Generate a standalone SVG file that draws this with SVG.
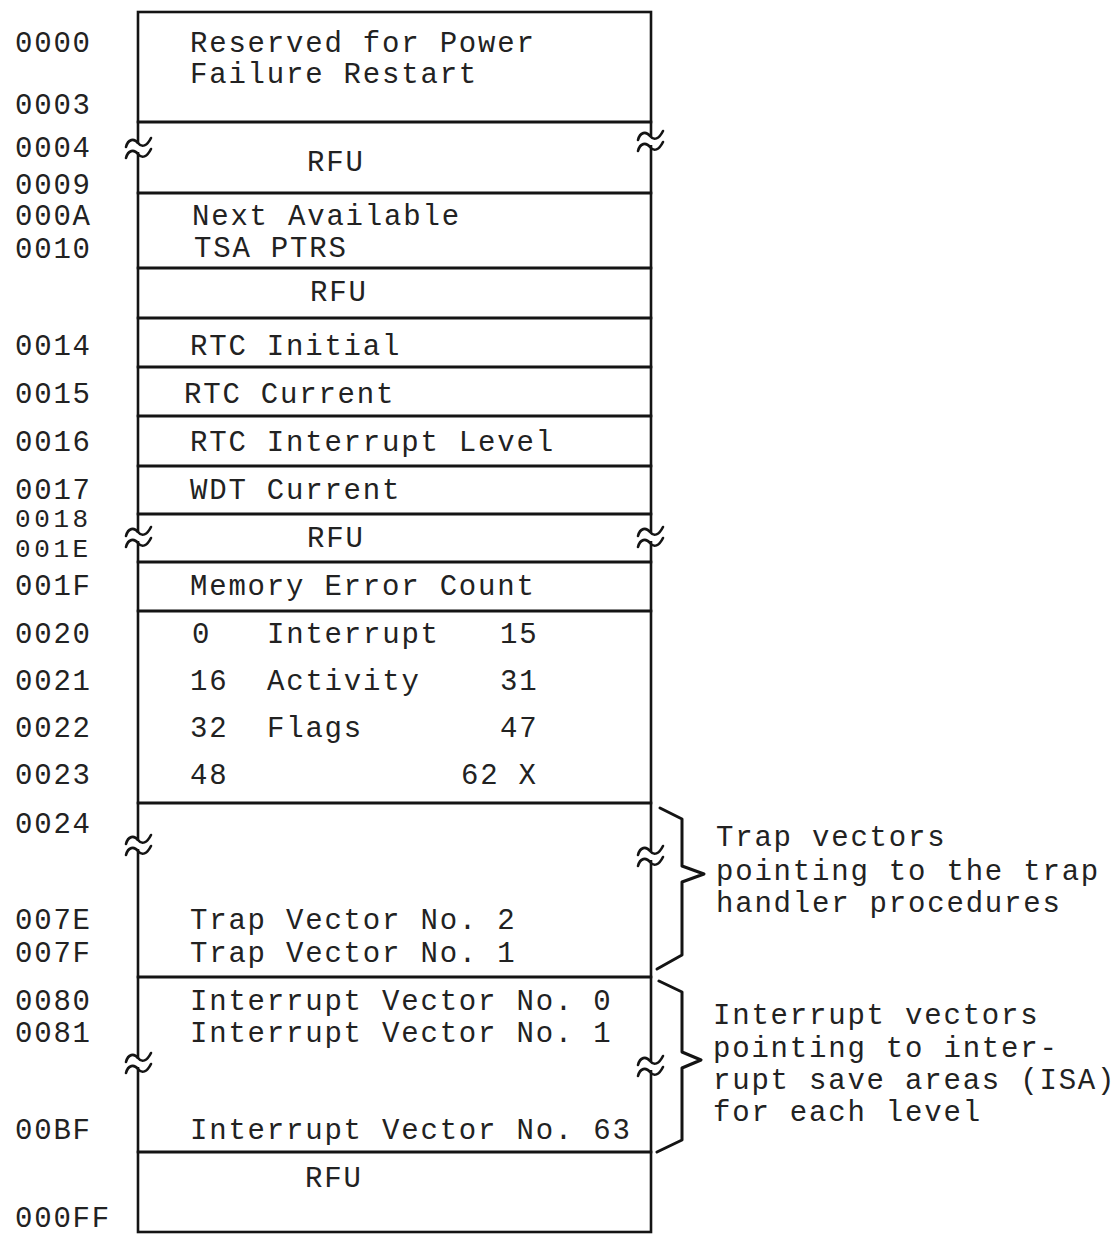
<svg xmlns="http://www.w3.org/2000/svg" width="1114" height="1238" viewBox="0 0 1114 1238">
<style>
.cell{fill:none;stroke:#141414;stroke-width:2.6}
.t{font-family:"Liberation Mono","DejaVu Sans Mono",monospace;font-size:29px;letter-spacing:1.8px;fill:#222}
.s{font-size:26px;letter-spacing:3.6px}
.brace{fill:none;stroke:#141414;stroke-width:3;stroke-linejoin:round;stroke-linecap:round}
</style>
<defs>
<g id="brk">
<rect x="-4" y="-4" width="8" height="8" fill="#fff"/>
<path d="M-13,-1 C-11,-9 -5,-10 -1,-5 S8,-2 12,-10 M-13,10 C-11,2 -5,1 -1,6 S8,9 12,1" fill="none" stroke="#141414" stroke-width="2.6" stroke-linecap="round"/>
</g>
</defs>
<rect width="1114" height="1238" fill="#fff"/>

<g id="n0000">
<rect class="cell" x="138" y="12" width="513" height="110"/>
<text class="t" x="15" y="52">0000</text>
<text class="t" x="15" y="114">0003</text>
<text class="t" x="190" y="52">Reserved for Power</text>
<text class="t" x="190" y="83">Failure Restart</text>
</g>
<g id="n0004">
<rect class="cell" x="138" y="122" width="513" height="71"/>
<text class="t" x="15" y="157">0004</text>
<text class="t" x="15" y="194">0009</text>
<text class="t" x="307" y="171">RFU</text>
</g>
<g id="n000A">
<rect class="cell" x="138" y="193" width="513" height="75"/>
<text class="t" x="15" y="225">000A</text>
<text class="t" x="15" y="258">0010</text>
<text class="t" x="192" y="225">Next Available</text>
<text class="t" x="194" y="257">TSA PTRS</text>
</g>
<g id="nRFU1">
<rect class="cell" x="138" y="268" width="513" height="50"/>
<text class="t" x="310" y="301">RFU</text>
</g>
<g id="n0014">
<rect class="cell" x="138" y="318" width="513" height="49"/>
<text class="t" x="15" y="355">0014</text>
<text class="t" x="190" y="355">RTC Initial</text>
</g>
<g id="n0015">
<rect class="cell" x="138" y="367" width="513" height="49"/>
<text class="t" x="15" y="403">0015</text>
<text class="t" x="184" y="403">RTC Current</text>
</g>
<g id="n0016">
<rect class="cell" x="138" y="416" width="513" height="50"/>
<text class="t" x="15" y="451">0016</text>
<text class="t" x="190" y="451">RTC Interrupt Level</text>
</g>
<g id="n0017">
<rect class="cell" x="138" y="466" width="513" height="48"/>
<text class="t" x="15" y="499">0017</text>
<text class="t" x="190" y="499">WDT Current</text>
</g>
<g id="n0018">
<rect class="cell" x="138" y="514" width="513" height="48"/>
<text class="t s" x="15" y="527">0018</text>
<text class="t s" x="15" y="557">001E</text>
<text class="t" x="307" y="547">RFU</text>
</g>
<g id="n001F">
<rect class="cell" x="138" y="562" width="513" height="49"/>
<text class="t" x="15" y="595">001F</text>
<text class="t" x="190" y="595">Memory Error Count</text>
</g>
<g id="n0020">
<rect class="cell" x="138" y="611" width="513" height="192"/>
<text class="t" x="15" y="643">0020</text>
<text class="t" x="15" y="690">0021</text>
<text class="t" x="15" y="737">0022</text>
<text class="t" x="15" y="784">0023</text>
<text class="t" x="192" y="643">0</text>
<text class="t" x="267" y="643">Interrupt</text>
<text class="t" x="500" y="643">15</text>
<text class="t" x="190" y="690">16</text>
<text class="t" x="267" y="690">Activity</text>
<text class="t" x="500" y="690">31</text>
<text class="t" x="190" y="737">32</text>
<text class="t" x="267" y="737">Flags</text>
<text class="t" x="500" y="737">47</text>
<text class="t" x="190" y="784">48</text>
<text class="t" x="461" y="784">62 X</text>
</g>
<g id="n0024">
<rect class="cell" x="138" y="803" width="513" height="174"/>
<text class="t" x="15" y="833">0024</text>
<text class="t" x="15" y="929">007E</text>
<text class="t" x="15" y="962">007F</text>
<text class="t" x="190" y="929">Trap Vector No. 2</text>
<text class="t" x="190" y="962">Trap Vector No. 1</text>
</g>
<g id="n0080">
<rect class="cell" x="138" y="977" width="513" height="175"/>
<text class="t" x="15" y="1010">0080</text>
<text class="t" x="15" y="1042">0081</text>
<text class="t" x="15" y="1139">00BF</text>
<text class="t" x="190" y="1010">Interrupt Vector No. 0</text>
<text class="t" x="190" y="1042">Interrupt Vector No. 1</text>
<text class="t" x="190" y="1139">Interrupt Vector No. 63</text>
</g>
<g id="nRFU2">
<rect class="cell" x="138" y="1152" width="513" height="80"/>
<text class="t" x="305" y="1187">RFU</text>
<text class="t" x="15" y="1227">000FF</text>
</g>

<g id="breaks">
<use href="#brk" x="139" y="148"/>
<use href="#brk" x="651" y="141"/>
<use href="#brk" x="139" y="537"/>
<use href="#brk" x="651" y="537"/>
<use href="#brk" x="139" y="845"/>
<use href="#brk" x="651" y="856"/>
<use href="#brk" x="139" y="1063"/>
<use href="#brk" x="651" y="1066"/>
</g>

<g id="connectors">
<path class="brace" d="M660,808 L682,819 L682,866 L704,874 L682,882 L682,955 L657,969"/>
<path class="brace" d="M659,981 L682,992 L682,1052 L701,1060 L682,1068 L682,1140 L657,1152"/>
</g>

<g id="note-trap">
<text class="t" x="716" y="846">Trap vectors</text>
<text class="t" x="716" y="880">pointing to the trap</text>
<text class="t" x="716" y="912">handler procedures</text>
</g>
<g id="note-int">
<text class="t" x="713" y="1024">Interrupt vectors</text>
<text class="t" x="713" y="1057">pointing to inter-</text>
<text class="t" x="713" y="1089">rupt save areas (ISA)</text>
<text class="t" x="713" y="1121">for each level</text>
</g>
</svg>
